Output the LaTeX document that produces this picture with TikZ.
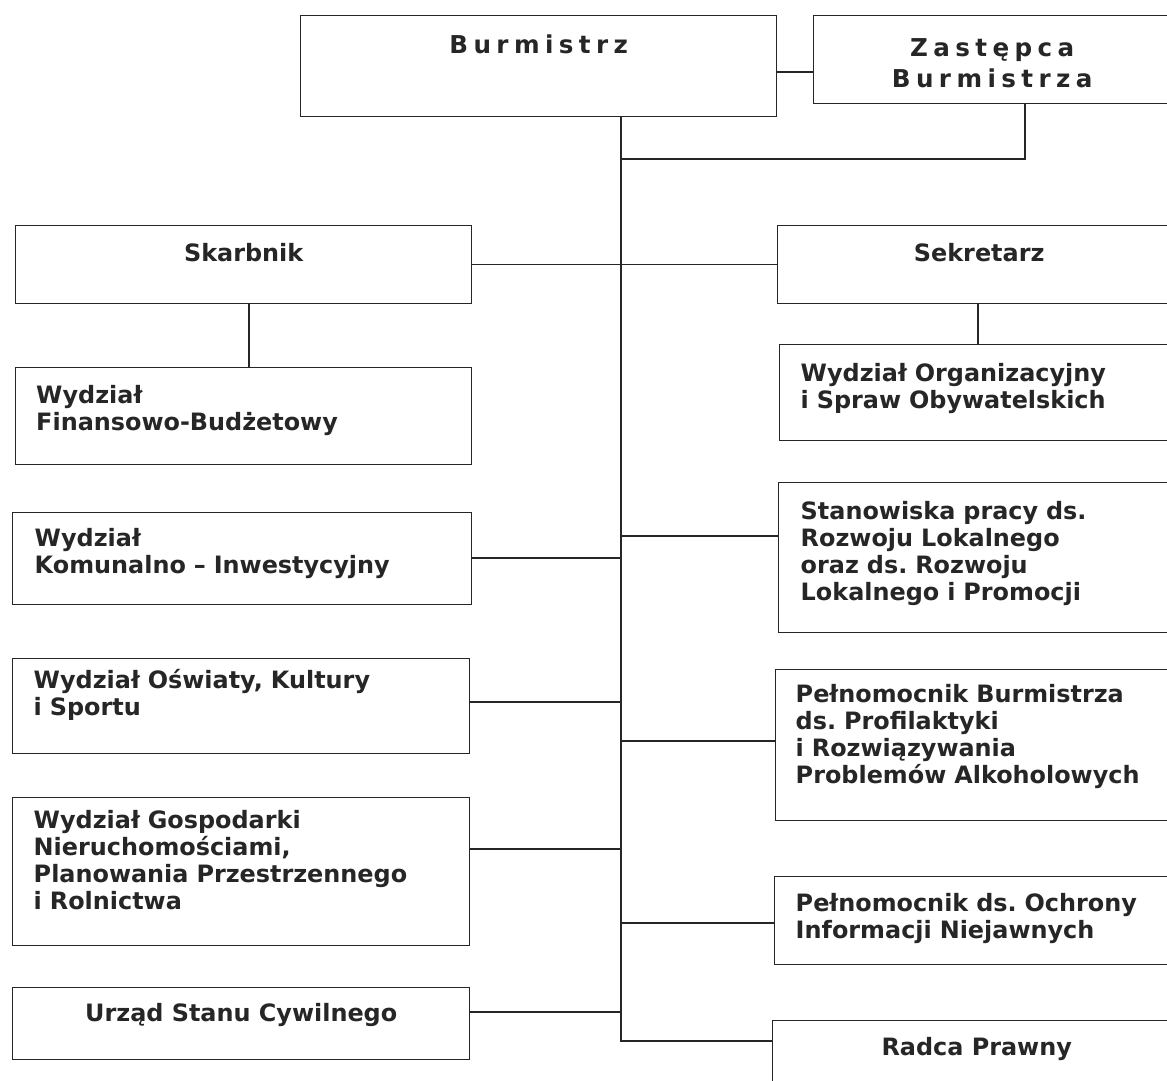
\documentclass[tikz,border=0pt]{standalone}
\usepackage{fontspec}
\setmainfont{DejaVu Sans}
\newfontfamily\spacedfont[LetterSpace=22]{DejaVu Sans}
\frenchspacing

\begin{document}
\begin{tikzpicture}[x=0.02cm, y=-0.02cm,
	unit/.style={draw=black!85, line width=0.8pt, inner sep=0pt, anchor=north west,
	             text=black!85},
	extent/.style 2 args={minimum width=#1*0.02cm, minimum height=#2*0.02cm},
	lbox/.style={unit, align=left, text width=#1, text height=0.4cm,
	             font=\fontsize{13.6}{15.3}\selectfont\bfseries},
	cbox/.style={unit, font=\fontsize{13.6}{15.3}\selectfont\bfseries},
	headbox/.style={unit, font=\fontsize{14}{18}\selectfont\spacedfont\bfseries},
	wire/.style={black!85, line width=0.8pt}]
	\useasboundingbox (0,0) rectangle (1167,1081);
	\clip (0,0) rectangle (1167,1081);

	% Top
	\node[headbox, extent={476}{101}, text depth=0.88cm] (burm) at (300,15) {Burmistrz};
	\node[headbox, extent={357}{88}, align=center, text height=1.12cm, text depth=0cm]
	     (zast) at (813,15) {Zastępca\\Burmistrza};

	% Left column
	\node[cbox, extent={456}{78}, text depth=0.48cm] (skarb) at (15,225) {Skarbnik};
	\node[lbox=8.3cm, extent={456}{97}, text depth=0.9cm] (wfin) at (15,367)
	     {Wydział\\Finansowo-Budżetowy};
	\node[lbox=8.3cm, extent={459}{92}, text depth=0.88cm] (wkom) at (12,512)
	     {Wydział\\Komunalno – Inwestycyjny};
	\node[lbox=8.3cm, extent={457}{95}, text depth=1.1cm] (wosw) at (12,658)
	     {Wydział Oświaty, Kultury\\i Sportu};
	\node[lbox=8.3cm, extent={457}{148}, text depth=2.12cm] (wgosp) at (12,797)
	     {Wydział Gospodarki\\Nieruchomościami,\\Planowania Przestrzennego\\i Rolnictwa};
	\node[cbox, extent={457}{72}, text depth=0.46cm] (urzad) at (12,987)
	     {Urząd Stanu Cywilnego};

	% Right column
	\node[cbox, extent={403}{78}, text depth=0.48cm] (sekr) at (777,225) {Sekretarz};
	\node[lbox=7.18cm, extent={401}{96}, text depth=0.84cm] (worg) at (779,344)
	     {Wydział Organizacyjny\\i Spraw Obywatelskich};
	\node[lbox=7.16cm, extent={402}{150}, text depth=1.92cm] (stan) at (778,482)
	     {Stanowiska pracy ds.\\Rozwoju Lokalnego\\oraz ds. Rozwoju\\Lokalnego i Promocji};
	\node[lbox=7.3cm, extent={405}{151}, text depth=2.1cm] (pelnb) at (775,669)
	     {Pełnomocnik Burmistrza\\ds. Profilaktyki\\i Rozwiązywania\\Problemów Alkoholowych};
	\node[lbox=7.28cm, extent={406}{88}, text depth=0.76cm] (pelno) at (774,876)
	     {Pełnomocnik ds. Ochrony\\Informacji Niejawnych};
	\node[cbox, extent={408}{80}, text depth=0.56cm] (radca) at (772,1020) {Radca Prawny};

	% Wires
	\coordinate (t) at (621,0);
	\draw[wire] (burm.east |- 0,72) -- (zast.west |- 0,72);
	\draw[wire] (burm.south -| t) -- (t |- 0,1041) -- (radca.west |- 0,1041);
	\draw[wire] (zast.south -| 1025,0) |- (t |- 0,159);
	\draw[wire] (skarb.east) -- (sekr.west);
	\draw[wire] (skarb.south -| 249,0) -- (wfin.north -| 249,0);
	\draw[wire] (sekr.south -| 978,0) -- (worg.north -| 978,0);
	\foreach \b/\y in {wkom/558, wosw/702, wgosp/849, urzad/1012}
		\draw[wire] (\b.east |- 0,\y) -- (t |- 0,\y);
	\foreach \b/\y in {stan/536, pelnb/741, pelno/923}
		\draw[wire] (t |- 0,\y) -- (\b.west |- 0,\y);
\end{tikzpicture}
\end{document}
